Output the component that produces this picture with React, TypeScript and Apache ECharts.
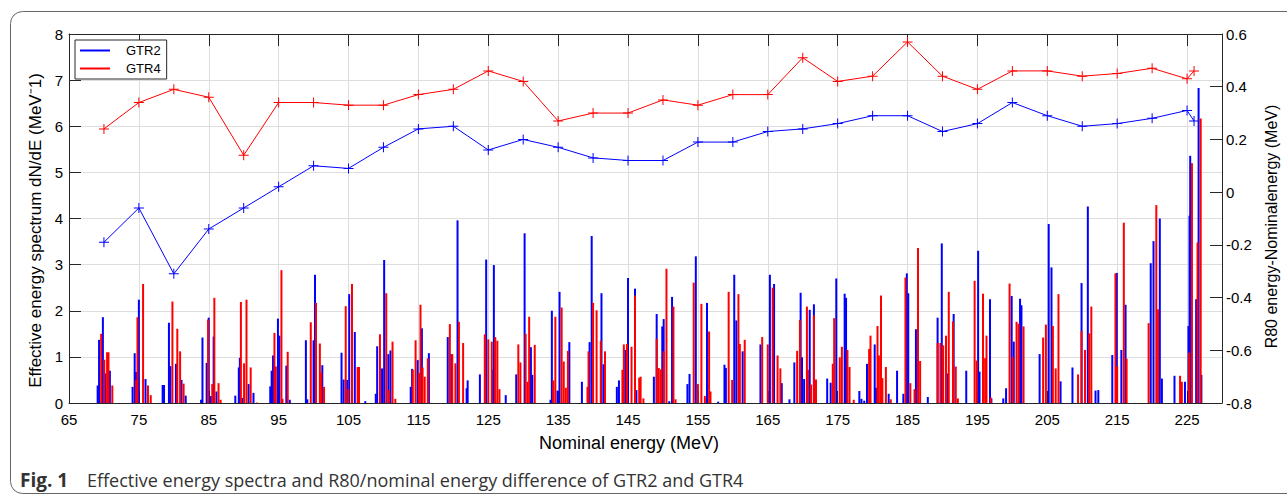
import React, { useEffect, useRef } from "react";
import * as echarts from "echarts";

// ---------- data ----------
const X_START = 65; // first tick of the energy axis (MeV)
const X_END = 230; // end of the energy axis (MeV)
const X_STEP = 10;

// Effective energy spectrum dN/dE, GTR2 : [energy MeV, value MeV^-1]
const gtr2Spectrum: [number, number][] = [
  [69.1, 0.38], [69.3, 1.37], [69.85, 1.86], [70.2, 0.64], [70.85, 0.7],
  [74.1, 0.35], [74.4, 1.08], [74.6, 0.67], [75.0, 2.24], [75.95, 0.52],
  [78.4, 0.39], [78.6, 0.39], [79.3, 1.74], [79.5, 0.8], [80.3, 0.85], [81.1, 0.5], [81.7, 0.16],
  [83.9, 0.07], [84.1, 1.42], [84.7, 0.87], [85.0, 1.85], [85.3, 0.15], [85.7, 1.44], [86.1, 0.25],
  [88.8, 0.16], [89.3, 0.77], [89.45, 0.98], [89.8, 0.11], [90.7, 0.41], [91.4, 0.22],
  [93.8, 0.36], [94.0, 0.7], [94.2, 1.03], [94.9, 1.83], [95.1, 1.46], [96.1, 0.81], [96.6, 0.07],
  [98.9, 1.36], [99.1, 0.08], [100.0, 1.36], [100.2, 2.78], [101.25, 0.82],
  [104.0, 1.09], [104.3, 0.51], [104.8, 0.5], [105.1, 2.36], [105.9, 1.54], [107.4, 0.04],
  [108.9, 0.2], [109.1, 1.23], [109.8, 0.75], [110.1, 3.1], [110.7, 1.06], [111.0, 1.14],
  [113.9, 0.35], [114.1, 0.74], [114.9, 0.93], [115.5, 1.62], [116.5, 1.08],
  [119.2, 1.43], [119.7, 1.06], [120.6, 3.96], [121.9, 0.32], [122.05, 0.49],
  [123.8, 0.62], [124.7, 3.11], [125.55, 0.72], [125.8, 2.99], [127.5, 0.17],
  [129.0, 0.62], [130.2, 3.68], [131.1, 1.21], [131.3, 0.61],
  [133.9, 0.07], [134.1, 2.0], [134.9, 0.27], [135.2, 2.41], [136.6, 1.32],
  [138.4, 0.46], [139.5, 1.32], [139.8, 3.62], [141.2, 2.38], [141.5, 0.84],
  [143.4, 0.35], [143.7, 0.49], [144.6, 1.15], [145.0, 2.71], [146.0, 2.48], [146.2, 0.28],
  [148.7, 0.57], [149.1, 1.93], [149.9, 1.66], [150.1, 1.82], [150.9, 0.04], [151.3, 2.3],
  [153.5, 0.41], [153.8, 0.63], [154.7, 3.18], [156.3, 2.17],
  [157.9, 0.03], [158.8, 0.83], [159.0, 0.76], [160.2, 2.78], [160.5, 1.79], [161.4, 1.12],
  [163.95, 1.27], [165.3, 2.78], [165.9, 2.58], [167.0, 0.43],
  [168.1, 0.08], [168.8, 0.88], [169.7, 2.39], [169.9, 0.99], [170.2, 0.52], [171.0, 2.02], [171.6, 2.14],
  [173.5, 0.53], [174.0, 0.44], [174.8, 2.7], [176.0, 2.37], [176.2, 2.28],
  [178.1, 0.26], [178.4, 0.09], [178.8, 0.05], [179.2, 0.85], [180.3, 1.27], [180.5, 0.33], [182.3, 0.2], [183.5, 0.7],
  [184.4, 0.2], [184.9, 2.81], [185.1, 2.38], [186.2, 1.6],
  [187.9, 0.13], [189.3, 1.85], [189.9, 3.46], [190.7, 0.64], [191.6, 1.93],
  [193.4, 0.7], [195.1, 3.3], [195.3, 0.68], [196.8, 2.25], [197.0, 0.1],
  [198.7, 0.1], [199.1, 0.32], [199.9, 2.32], [200.2, 1.33], [201.1, 2.26], [201.3, 2.12],
  [203.9, 1.06], [205.2, 3.88], [205.6, 2.94], [206.9, 0.47],
  [208.6, 0.77], [209.9, 2.6], [210.8, 4.26], [211.9, 0.27], [212.3, 0.28],
  [214.3, 1.04], [214.95, 2.82], [215.6, 1.15], [216.2, 2.13],
  [219.8, 3.03], [220.2, 3.51], [221.1, 4.0], [221.4, 0.53],
  [223.2, 0.59], [224.7, 0.46], [225.2, 1.67], [225.35, 4.06], [225.45, 5.36], [226.3, 2.25], [226.65, 6.83], [227.05, 0.61],
];

// Effective energy spectrum dN/dE, GTR4 : [energy MeV, value MeV^-1]
const gtr4Spectrum: [number, number][] = [
  [69.6, 1.5], [70.05, 0.94], [70.45, 1.1], [70.65, 1.1], [71.2, 0.38],
  [74.6, 0.5], [74.8, 1.86], [75.6, 2.58], [76.3, 0.38], [76.7, 0.17],
  [79.8, 2.2], [80.5, 1.61], [80.9, 1.12], [81.4, 0.42],
  [84.9, 1.81], [85.5, 0.41], [85.8, 2.28], [86.4, 0.43], [86.7, 0.07],
  [89.6, 2.19], [90.05, 0.86], [90.4, 2.24], [91.0, 0.77], [91.9, 0.01],
  [94.4, 1.52], [94.6, 0.79], [95.4, 2.88], [95.55, 0.09], [96.3, 1.11],
  [99.6, 1.75], [100.35, 2.17], [100.9, 1.29], [101.1, 0.66], [101.5, 0.35],
  [104.6, 2.1], [104.95, 0.3], [105.5, 2.58], [106.3, 0.78], [106.5, 0.78],
  [109.5, 1.49], [110.4, 2.38], [110.75, 0.28], [111.3, 1.33], [111.7, 0.09],
  [114.2, 0.72], [114.6, 1.36], [115.1, 0.65], [115.3, 2.13], [115.6, 0.77], [115.9, 0.57], [116.35, 0.97],
  [119.5, 1.71], [119.85, 1.06], [120.3, 0.86], [120.8, 1.76], [121.4, 1.3],
  [124.5, 1.49], [125.0, 1.38], [125.5, 1.33], [126.0, 1.43], [126.3, 1.35], [126.6, 0.3],
  [129.3, 1.27], [129.6, 0.88], [130.35, 1.5], [130.6, 0.46], [130.85, 1.87], [131.65, 1.26],
  [134.3, 0.49], [134.6, 1.87], [135.5, 2.07], [135.8, 0.9], [136.1, 0.33], [136.4, 1.13],
  [139.2, 0.35], [139.35, 1.12], [140.0, 2.17], [140.5, 2.01], [141.1, 1.35], [141.7, 1.12],
  [144.2, 0.72], [144.4, 1.27], [144.85, 1.28], [145.5, 1.22], [146.0, 2.33], [146.6, 0.55], [146.8, 0.57], [147.2, 0.1],
  [149.1, 1.39], [149.4, 0.76], [149.7, 0.73], [150.1, 1.12], [150.5, 2.91], [151.5, 2.09], [151.8, 0.08],
  [154.4, 2.61], [155.0, 0.41], [155.5, 2.15], [156.0, 0.15], [156.6, 1.55], [156.8, 0.25],
  [159.4, 2.41], [159.9, 0.5], [160.8, 2.36], [161.0, 1.28], [161.7, 1.37],
  [164.2, 1.43], [165.0, 1.27], [165.7, 2.5], [166.4, 1.03], [166.8, 0.75],
  [169.2, 1.13], [169.6, 1.8], [170.6, 2.09], [170.75, 0.72], [171.2, 0.4], [171.6, 1.9], [171.9, 0.51],
  [174.3, 0.85], [174.5, 1.84], [175.3, 0.99], [175.6, 1.22], [176.4, 1.15], [176.7, 0.78], [177.3, 0.07],
  [179.5, 1.17], [179.7, 1.46], [180.7, 1.67], [180.9, 1.03], [181.2, 2.33], [181.4, 0.54], [181.9, 0.78], [182.6, 0.08],
  [184.7, 2.72], [185.4, 0.43], [186.0, 0.3], [186.5, 3.36], [186.8, 0.91],
  [189.3, 1.3], [189.7, 1.3], [190.1, 1.25], [190.5, 1.46], [190.9, 2.41], [191.5, 1.77], [191.9, 0.79], [192.2, 0.1],
  [194.6, 2.65], [194.9, 0.92], [195.8, 2.37], [196.1, 0.97], [196.3, 1.46], [196.9, 0.12],
  [199.6, 2.59], [200.05, 1.0], [200.6, 1.76], [200.9, 1.72], [201.6, 1.66],
  [204.4, 1.42], [204.8, 1.7], [205.8, 1.67], [206.2, 0.75], [206.6, 2.36],
  [209.4, 0.62], [209.9, 1.56], [210.4, 1.15], [211.0, 1.51], [211.3, 2.09],
  [214.75, 2.81], [215.0, 0.79], [215.95, 3.91], [216.35, 0.96],
  [219.5, 1.73], [220.6, 4.29], [220.85, 2.03],
  [224.0, 0.59], [224.25, 0.46], [225.3, 1.09], [225.7, 5.2], [226.5, 3.48], [226.95, 6.17],
];

// R80 energy - nominal energy (MeV), right axis
const nominalEnergies = [
  70, 75, 80, 85, 90, 95, 100, 105, 110, 115, 120, 125, 130, 135, 140, 145, 150,
  155, 160, 165, 170, 175, 180, 185, 190, 195, 200, 205, 210, 215, 220, 225, 226,
];
const gtr2R80Diff = [
  -0.19, -0.06, -0.31, -0.14, -0.06, 0.02, 0.1, 0.09, 0.17, 0.24, 0.25, 0.16, 0.2,
  0.17, 0.13, 0.12, 0.12, 0.19, 0.19, 0.23, 0.24, 0.26, 0.29, 0.29, 0.23, 0.26,
  0.34, 0.29, 0.25, 0.26, 0.28, 0.31, 0.27,
];
const gtr4R80Diff = [
  0.24, 0.34, 0.39, 0.36, 0.14, 0.34, 0.34, 0.33, 0.33, 0.37, 0.39, 0.46, 0.42,
  0.27, 0.3, 0.3, 0.35, 0.33, 0.37, 0.37, 0.51, 0.42, 0.44, 0.57, 0.44, 0.39,
  0.46, 0.46, 0.44, 0.45, 0.47, 0.43, 0.46,
];

const seriesNames = ["GTR2", "GTR4"];
const seriesColors = ["#0000ff", "#ff0000"];
const leftAxisName = "Effective energy spectrum dN/dE (MeV\u207B1)";
const rightAxisName = "R80 energy-Nominalenergy (MeV)";
const xAxisName = "Nominal energy (MeV)";
const captionLabel = "Fig. 1";
const captionText =
  "Effective energy spectra and R80/nominal energy difference of GTR2 and GTR4";

// ---------- chart ----------
const FONT = "'Liberation Sans', Arial, Helvetica, sans-serif";
const CAPTION_FONT = "'Open Sans', 'Noto Sans', sans-serif";
const AXIS_COLOR = "#262626";
const GRID_COLOR = "#dedede";
const PLUS = "path://M4.5,0H5.5V4.5H10V5.5H5.5V10H4.5V5.5H0V4.5H4.5Z";

const shiftX = (e: number) => e - X_START;

export default function App() {
  const ref = useRef<HTMLDivElement>(null);

  useEffect(() => {
    if (!ref.current) return;
    const chart = echarts.init(ref.current, undefined, { renderer: "svg" });

    const axisLine = { show: true, onZero: false, lineStyle: { color: AXIS_COLOR, width: 1 } };
    const axisTick = { show: true, inside: true, length: 12, lineStyle: { color: AXIS_COLOR } };

    const xAxisBase = {
      type: "value" as const,
      min: 0,
      max: X_END - X_START,
      interval: X_STEP,
      axisLine,
      axisTick,
    };

    const option: any = {
      animation: false,
      textStyle: { fontFamily: FONT },
      grid: { left: 69, top: 34, right: 65, bottom: 94, containLabel: false },
      legend: {
        left: 75,
        top: 40,
        orient: "vertical",
        data: seriesNames.map((n) => ({ name: n, icon: "rect" })),
        itemWidth: 30,
        itemHeight: 2,
        itemGap: 5,
        padding: [4, 6, 4, 5],
        borderColor: AXIS_COLOR,
        borderWidth: 1,
        borderRadius: 0,
        backgroundColor: "#ffffff",
        selectedMode: false,
        textStyle: { fontSize: 13, color: "#000", fontFamily: FONT, padding: [0, 0, 0, 11] },
        z: 20,
      },
      xAxis: [
        {
          ...xAxisBase,
          position: "bottom",
          name: xAxisName,
          nameLocation: "middle",
          nameGap: 31,
          nameTextStyle: { fontSize: 18, color: "#000", fontFamily: FONT, padding: [0, 33, 0, 0] },
          axisLabel: {
            show: true,
            margin: 9,
            fontSize: 15,
            color: "#000",
            fontFamily: FONT,
            formatter: (v: number) => (v > X_END - X_START - 1 ? "" : String(v + X_START)),
          },
          splitLine: { show: true, lineStyle: { color: GRID_COLOR, width: 1 } },
        },
        {
          ...xAxisBase,
          position: "top",
          axisLabel: { show: false },
          splitLine: { show: false },
        },
      ],
      yAxis: [
        {
          type: "value",
          position: "left",
          min: 0,
          max: 8,
          interval: 1,
          name: leftAxisName,
          nameLocation: "middle",
          nameGap: 19,
          nameRotate: 90,
          nameTextStyle: { fontSize: 17, color: "#000", fontFamily: FONT, padding: [0, 24, 0, 0] },
          axisLine,
          axisTick,
          axisLabel: { margin: 6, fontSize: 15, color: "#000", fontFamily: FONT },
          splitLine: { show: true, lineStyle: { color: GRID_COLOR, width: 1 } },
        },
        {
          type: "value",
          position: "right",
          min: -0.8,
          max: 0.6,
          interval: 0.2,
          name: rightAxisName,
          nameLocation: "middle",
          nameGap: 41,
          nameRotate: 90,
          nameTextStyle: { fontSize: 16, color: "#000", fontFamily: FONT, padding: [0, 16, 0, 0] },
          axisLine,
          axisTick,
          axisLabel: {
            margin: 4,
            fontSize: 15,
            color: "#000",
            fontFamily: FONT,
            formatter: (v: number) => String(Math.round(v * 10) / 10),
          },
          splitLine: { show: false },
        },
      ],
      series: [
        {
          name: seriesNames[0],
          type: "bar",
          xAxisIndex: 0,
          yAxisIndex: 0,
          barWidth: 2,
          barGap: "-100%",
          itemStyle: { color: seriesColors[0] },
          data: gtr2Spectrum.map(([e, v]) => [shiftX(e), v]),
          z: 2,
        },
        {
          name: seriesNames[1],
          type: "bar",
          xAxisIndex: 0,
          yAxisIndex: 0,
          barWidth: 2,
          barGap: "-100%",
          itemStyle: { color: seriesColors[1] },
          data: gtr4Spectrum.map(([e, v]) => [shiftX(e), v]),
          z: 3,
        },
        {
          name: seriesNames[0],
          type: "line",
          xAxisIndex: 0,
          yAxisIndex: 1,
          symbol: PLUS,
          symbolSize: 10,
          itemStyle: { color: seriesColors[0], borderWidth: 0 },
          lineStyle: { color: seriesColors[0], width: 1 },
          data: nominalEnergies.map((e, i) => [shiftX(e), gtr2R80Diff[i]]),
          z: 5,
        },
        {
          name: seriesNames[1],
          type: "line",
          xAxisIndex: 0,
          yAxisIndex: 1,
          symbol: PLUS,
          symbolSize: 10,
          itemStyle: { color: seriesColors[1], borderWidth: 0 },
          lineStyle: { color: seriesColors[1], width: 1 },
          data: nominalEnergies.map((e, i) => [shiftX(e), gtr4R80Diff[i]]),
          z: 5,
        },
      ],
      graphic: [
        {
          type: "rect",
          shape: { x: 10.5, y: 11.5, width: 1320, height: 482, r: 12 },
          style: { fill: "none", stroke: "#666666", lineWidth: 1 },
          silent: true,
          z: -10,
        },
        {
          type: "text",
          x: 20,
          y: 480,
          style: {
            text: captionLabel,
            fontSize: 19,
            fontWeight: "bold",
            fontFamily: CAPTION_FONT,
            fill: "#333333",
            verticalAlign: "middle",
          },
          silent: true,
        },
        {
          type: "text",
          x: 87,
          y: 480,
          style: {
            text: captionText,
            fontSize: 18,
            fontFamily: CAPTION_FONT,
            fill: "#333333",
            verticalAlign: "middle",
          },
          silent: true,
        },
      ],
    };

    chart.setOption(option);
    return () => chart.dispose();
  }, []);

  return (
    <div
      ref={ref}
      style={{ position: "absolute", left: 0, top: 0, width: 1287, height: 497, background: "#fff" }}
    />
  );
}
